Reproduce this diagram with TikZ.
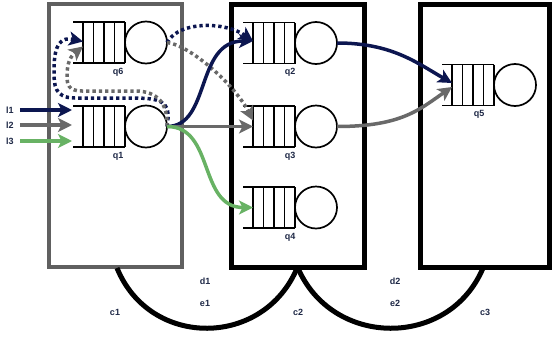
\documentclass[tikz,border=0pt]{standalone}
\usepackage{fontspec}
\setmainfont{Liberation Sans}
\usetikzlibrary{arrows.meta,calc}
\definecolor{navy}{RGB}{12,22,80}
\definecolor{midgray}{RGB}{105,105,105}
\definecolor{boxgray}{RGB}{96,96,96}
\definecolor{lgreen}{RGB}{104,178,100}
\definecolor{txt}{RGB}{30,40,70}
\tikzset{
 box/.style={draw, line width=5pt, minimum width=133pt, minimum height=263pt, inner sep=0pt, outer sep=0pt},
 qbox/.style={minimum width=42pt, minimum height=41pt, inner sep=0pt, outer sep=0pt},
 qsrv/.style={circle, draw, line width=1.7pt, minimum size=42pt, inner sep=0pt, outer sep=0pt},
 qline/.style={line width=1.8pt},
 lbl/.style={font=\fontsize{9}{10}\selectfont\bfseries, text=txt, inner sep=1pt},
 flow/.style={line width=3.5pt, -{Stealth[length=14pt,width=14pt,inset=3.5pt]}},
 dotflow/.style={flow, dash pattern=on 3.3pt off 3pt},
 link/.style={line width=5pt},
}
\newcommand\queue[4]{%
  \node[qbox] (#1) at (#2) {};
  \node[qsrv, anchor=west] (#1s) at (#1.east) {};
  \draw[qline] ([xshift=-10pt]#1.north west) -- (#1.north east) ([xshift=-10pt]#1.south west) -- (#1.south east);
  \foreach \qf in {0,0.25,0.5,0.75,1} {\draw[qline] ($(#1.north west)!\qf!(#1.north east)$) -- ($(#1.south west)!\qf!(#1.south east)$);}
  \node[lbl] (#1l) at ([xshift=#4, yshift=-9pt]#1.south west) {#3};
}
\begin{document}
\begin{tikzpicture}[x=1pt,y=-1pt]
\useasboundingbox (0,0) rectangle (553,343);
% links between boxes
\coordinate (a1) at (117,268);
\coordinate (a3) at (483,268);
\node[box, draw=boxgray, line width=4.5pt] (b1) at (115.5,135.5) {};
\node[box] (b2) at (297.5,135.5) {};
\node[box, minimum width=129pt] (b3) at (484.5,135.5) {};
\draw[link] (a1) .. controls +(33,81) and +(-33,81) .. (b2.south);
\draw[link] (b2.south) .. controls +(34,81) and +(-34,81) .. (a3);
% queues
\queue{q6}{104,42.5}{q6}{35pt}
\queue{q1}{104,126.5}{q1}{35pt}
\queue{q2}{274,43}{q2}{37pt}
\queue{q3}{274,126.5}{q3}{37pt}
\queue{q4}{274,207.5}{q4}{37pt}
\queue{q5}{473,85}{q5}{27pt}
% inputs
\node[lbl] (l1) at (10,110) {l1};
\node[lbl] (l2) at (10,125) {l2};
\node[lbl] (l3) at (10,141) {l3};
\draw[flow, navy, shorten <=5pt, shorten >=11pt] (l1.east) -- (l1.east -| q1.west);
\draw[flow, midgray, shorten <=5pt, shorten >=11pt] (l2.east) -- (l2.east -| q1.west);
\draw[flow, lgreen, shorten <=5pt, shorten >=11pt] (l3.east) -- (l3.east -| q1.west);
% dotted flows
\draw[dotflow, navy] (q1s.east) .. controls (172,100) and (160,98) .. (130,98) -- (75,98) .. controls (54,98) and (54,85) .. (54,70) .. controls (54,42) and (62,37) .. ([yshift=1pt]q6.west);
\draw[dotflow, midgray] (q1s.east) .. controls (168,104) and (158,91) .. (135,91) -- (82,91) .. controls (68,91) and (67,84) .. (67,76) .. controls (67,62) and (71,56) .. ([yshift=-4pt]q6.west);
\draw[dotflow, navy] (q6s.east) .. controls (180,20) and (226,22) .. ([yshift=2pt]q2.west);
\draw[dotflow, midgray] (q6s.east) .. controls (190,45) and (235,85) .. ([yshift=6pt]q3.west);
% solid flows
\draw[flow, navy] (q1s.east) .. controls +(44,0) and +(-58,0) .. ([yshift=2pt]q2.west);
\draw[flow, midgray] (q1s.east) -- (q3.west);
\draw[flow, lgreen] (q1s.east) .. controls +(48,0) and +(-55,0) .. (q4.west);
\draw[flow, navy] (q2s.east) .. controls +(55,0) and +(-35,-20) .. ([yshift=2pt]q5.west);
\draw[flow, midgray] (q3s.east) .. controls +(65,0) and +(-32,22) .. ([yshift=-2pt]q5.west);
% link labels
\node[lbl] (d1) at (205,281) {d1};
\node[lbl] (e1) at (205,303) {e1};
\node[lbl] (c1) at (115,312) {c1};
\node[lbl] (c2) at (298,312) {c2};
\node[lbl] (d2) at (395,281) {d2};
\node[lbl] (e2) at (395,303) {e2};
\node[lbl] (c3) at (485,312) {c3};
\end{tikzpicture}
\end{document}
